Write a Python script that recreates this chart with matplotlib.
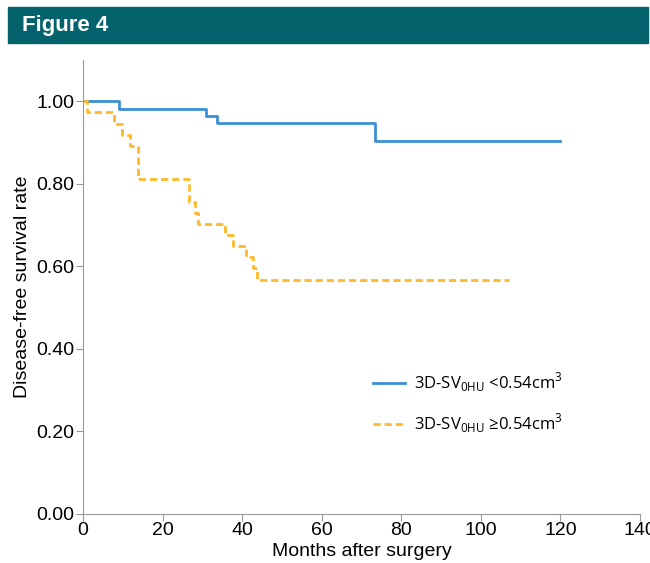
import matplotlib.pyplot as plt
from matplotlib.patches import Rectangle

# Kaplan-Meier steps
low_t = [0, 9.0, 30.8, 33.7, 73.4, 120]
low_s = [1.00, 0.982, 0.965, 0.947, 0.904, 0.904]
high_t = [0, 0.9, 7.8, 9.9, 11.8, 13.9, 26.6, 28.1, 28.9, 35.8, 37.6, 41.0, 42.7, 43.7, 107]
high_s = [1.00, 0.973, 0.946, 0.919, 0.892, 0.811, 0.757, 0.730, 0.703, 0.676,
          0.649, 0.622, 0.595, 0.568, 0.568]
xticks = [0, 20, 40, 60, 80, 100, 120, 140]
yticks = [0.0, 0.2, 0.4, 0.6, 0.8, 1.0]

plt.rcParams['font.family'] = ['Liberation Sans', 'DejaVu Sans']

fig = plt.figure(figsize=(6.5, 5.63), dpi=100)

# header bar
fig.patches.append(Rectangle((8 / 650, 1 - 43 / 563), 640 / 650, 36 / 563,
                             transform=fig.transFigure, color='#03626b', zorder=0))
fig.text(22 / 650, 1 - 25 / 563, 'Figure 4', color='white', fontsize=16, fontweight='bold',
         family=['Liberation Sans Narrow', 'Liberation Sans'], va='center', ha='left')

ax = fig.add_axes([83 / 650, 1 - 514 / 563, 557 / 650, 454 / 563])
ax.plot(low_t, low_s, drawstyle='steps-post', color='#3a90d4', lw=2.0,
        label=r'3D-SV$_{\mathregular{0HU}}$ <0.54cm$^{\mathregular{3}}$')
ax.plot(high_t, high_s, drawstyle='steps-post', color='#fdb92a', lw=2.0, ls=(0, (2.6, 1.4)),
        label=r'3D-SV$_{\mathregular{0HU}}$ ≥0.54cm$^{\mathregular{3}}$')

ax.set_xlim(0, 140)
ax.set_ylim(0, 1.1)
ax.set_xticks(xticks)
ax.set_yticks(yticks)
ax.set_yticklabels([f'{v:.2f}' for v in yticks])
for s in ['top', 'right']:
    ax.spines[s].set_visible(False)
for s in ['left', 'bottom']:
    ax.spines[s].set_color('#999999')
ax.tick_params(colors='#999999', labelcolor='black', labelsize=14, length=5, pad=1)
ax.set_xlabel('Months after surgery', fontsize=14, labelpad=3)
ax.set_ylabel('Disease-free survival rate', fontsize=14, labelpad=4)

ax.legend(loc='upper left', bbox_to_anchor=(0.521, 0.316), frameon=False,
          handlelength=1.9, handletextpad=0.55, labelspacing=1.05, borderpad=0, borderaxespad=0,
          prop={'family': ['Open Sans', 'DejaVu Sans'], 'size': 12})

fig.savefig('out.png', dpi=100)
